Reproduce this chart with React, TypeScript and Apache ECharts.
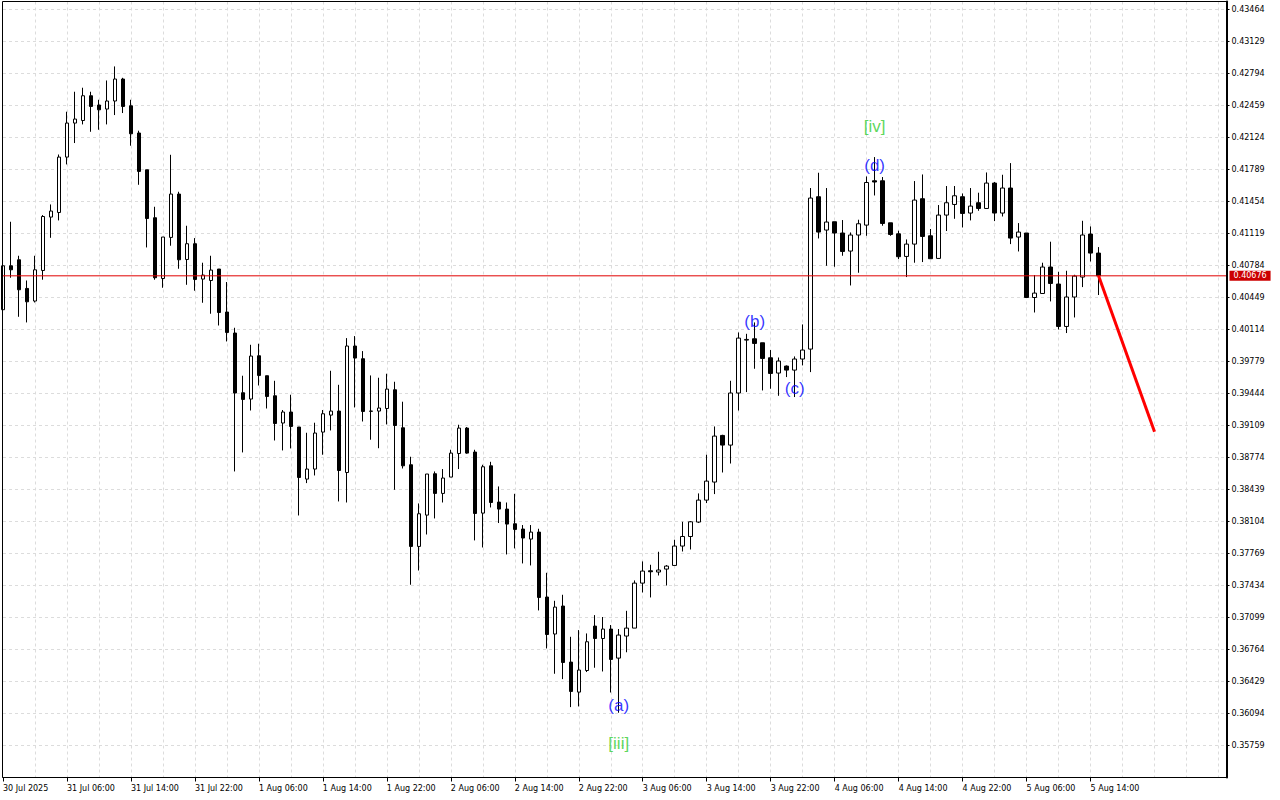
import { useEffect, useRef } from "react";
import * as echarts from "echarts";

// x-axis tick labels, one every 8 hourly bars (first bar: 30 Jul 22:00)
const timeLabels = [
  "30 Jul 2025", "31 Jul 06:00", "31 Jul 14:00", "31 Jul 22:00",
  "1 Aug 06:00", "1 Aug 14:00", "1 Aug 22:00",
  "2 Aug 06:00", "2 Aug 14:00", "2 Aug 22:00",
  "3 Aug 06:00", "3 Aug 14:00", "3 Aug 22:00",
  "4 Aug 06:00", "4 Aug 14:00", "4 Aug 22:00",
  "5 Aug 06:00", "5 Aug 14:00",
];
const BARS_PER_LABEL = 8;
const SLOT_COUNT = 154; // bars + empty space on the right

const opens = [
  0.40321, 0.40781, 0.40844, 0.40544, 0.40412, 0.40732, 0.41291, 0.41339, 0.41919, 0.42275,
  0.42302, 0.42561, 0.42464, 0.42422, 0.42506, 0.42736, 0.42456, 0.42171, 0.41786, 0.41284,
  0.40648, 0.41078, 0.41532, 0.40847, 0.41012, 0.40642, 0.40627, 0.40747, 0.40297, 0.40077,
  0.39452, 0.39386, 0.39839, 0.39630, 0.39420, 0.39135, 0.39250, 0.39093, 0.38548, 0.38653,
  0.39040, 0.39218, 0.39260, 0.38617, 0.39941, 0.39808, 0.39260, 0.39260, 0.39287, 0.39483,
  0.39085, 0.38698, 0.37843, 0.38171, 0.38604, 0.38398, 0.38569, 0.38816, 0.39082, 0.38831,
  0.38192, 0.38687, 0.38307, 0.38234, 0.38080, 0.38025, 0.37920, 0.37993, 0.37313, 0.36926,
  0.37219, 0.36632, 0.36318, 0.36544, 0.37009, 0.36879, 0.36978, 0.36674, 0.36905, 0.36988,
  0.37459, 0.37588, 0.37575, 0.37606, 0.37644, 0.37847, 0.37947, 0.38098, 0.38328, 0.38517,
  0.39005, 0.38904, 0.39449, 0.40003, 0.40017, 0.39975, 0.39818, 0.39658, 0.39731, 0.39689,
  0.39805, 0.39909, 0.41504, 0.41155, 0.41242, 0.41124, 0.40935, 0.41103, 0.41207, 0.41671,
  0.41671, 0.41231, 0.41116, 0.40879, 0.41008, 0.41483, 0.41095, 0.40858, 0.41312, 0.41423,
  0.41504, 0.41333, 0.41441, 0.41381, 0.41647, 0.41333, 0.41595, 0.41082, 0.41124, 0.40449,
  0.40491, 0.40768, 0.40590, 0.40146, 0.40454, 0.40663, 0.41113, 0.40914,
];
const closes = [
  0.40781, 0.40739, 0.40530, 0.40404, 0.40739, 0.41297, 0.41354, 0.41919, 0.42275, 0.42317,
  0.42561, 0.42449, 0.42414, 0.42506, 0.42736, 0.42449, 0.42163, 0.41769, 0.41276, 0.40656,
  0.41082, 0.41532, 0.40844, 0.41012, 0.40638, 0.40684, 0.40736, 0.40292, 0.40083, 0.39449,
  0.39382, 0.39836, 0.39633, 0.39413, 0.39130, 0.39250, 0.39099, 0.38565, 0.38653, 0.39030,
  0.39232, 0.39260, 0.38638, 0.39941, 0.39815, 0.39256, 0.39258, 0.39292, 0.39490, 0.39109,
  0.38687, 0.37843, 0.38185, 0.38601, 0.38398, 0.38559, 0.38820, 0.39082, 0.38820, 0.38188,
  0.38677, 0.38303, 0.38234, 0.38077, 0.38021, 0.37931, 0.37993, 0.37309, 0.36921, 0.37208,
  0.36628, 0.36325, 0.36549, 0.36845, 0.36879, 0.36978, 0.36660, 0.36915, 0.36988, 0.37459,
  0.37585, 0.37578, 0.37596, 0.37637, 0.37847, 0.37947, 0.38101, 0.38328, 0.38527, 0.38998,
  0.38904, 0.39449, 0.40024, 0.40010, 0.39968, 0.39811, 0.39654, 0.39784, 0.39689, 0.39805,
  0.39899, 0.41490, 0.41134, 0.41239, 0.41124, 0.40931, 0.41103, 0.41221, 0.41653, 0.41658,
  0.41224, 0.41109, 0.40876, 0.41008, 0.41469, 0.41088, 0.40855, 0.41312, 0.41441, 0.41514,
  0.41329, 0.41406, 0.41381, 0.41647, 0.41333, 0.41595, 0.41071, 0.41134, 0.40449, 0.40495,
  0.40768, 0.40596, 0.40146, 0.40454, 0.40673, 0.41103, 0.40914, 0.40676,
];
const highs = [
  0.40823, 0.41242, 0.40886, 0.40627, 0.40886, 0.41312, 0.41423, 0.41946, 0.42394, 0.42603,
  0.42645, 0.42603, 0.42519, 0.42721, 0.42868, 0.42749, 0.42519, 0.42195, 0.41786, 0.41399,
  0.41082, 0.41943, 0.41556, 0.41200, 0.41071, 0.40813, 0.40886, 0.40747, 0.40611, 0.40132,
  0.39630, 0.39954, 0.39965, 0.39630, 0.39577, 0.39271, 0.39431, 0.39093, 0.39033, 0.39138,
  0.39271, 0.39682, 0.39535, 0.40024, 0.40045, 0.39888, 0.39633, 0.39609, 0.39651, 0.39567,
  0.39358, 0.38782, 0.38293, 0.38601, 0.38628, 0.38653, 0.38855, 0.39117, 0.39093, 0.38855,
  0.38698, 0.38729, 0.38471, 0.38303, 0.38394, 0.38067, 0.38067, 0.38028, 0.37567, 0.37274,
  0.37337, 0.36897, 0.36967, 0.36932, 0.37124, 0.37104, 0.37020, 0.36978, 0.37169, 0.37487,
  0.37686, 0.37651, 0.37787, 0.37648, 0.37913, 0.38101, 0.38109, 0.38398, 0.38803, 0.39099,
  0.39012, 0.39577, 0.40083, 0.40069, 0.40188, 0.39975, 0.39899, 0.39821, 0.39738, 0.39832,
  0.40167, 0.41595, 0.41755, 0.41595, 0.41242, 0.41260, 0.41130, 0.41263, 0.41716, 0.41919,
  0.41710, 0.41231, 0.41148, 0.41057, 0.41668, 0.41737, 0.41166, 0.41417, 0.41616, 0.41616,
  0.41538, 0.41595, 0.41546, 0.41758, 0.41658, 0.41734, 0.41856, 0.41228, 0.41124, 0.40684,
  0.40813, 0.41033, 0.40718, 0.40729, 0.40687, 0.41252, 0.41193, 0.40977,
];
const lows = [
  0.40300, 0.40656, 0.40247, 0.40188, 0.40397, 0.40635, 0.41074, 0.41256, 0.41842, 0.42066,
  0.42261, 0.42184, 0.42205, 0.42261, 0.42359, 0.42380, 0.42038, 0.41629, 0.40973, 0.40635,
  0.40551, 0.40991, 0.40750, 0.40582, 0.40520, 0.40394, 0.40279, 0.40156, 0.39989, 0.38628,
  0.38827, 0.39266, 0.39528, 0.39287, 0.38952, 0.38848, 0.38869, 0.38167, 0.38506, 0.38586,
  0.38803, 0.39057, 0.38314, 0.38303, 0.39298, 0.39151, 0.38960, 0.38871, 0.39120, 0.38436,
  0.38659, 0.37442, 0.37591, 0.37968, 0.38136, 0.38303, 0.38569, 0.38653, 0.38813, 0.37906,
  0.37832, 0.38251, 0.38088, 0.37759, 0.37822, 0.37665, 0.37644, 0.37173, 0.36775, 0.36510,
  0.36454, 0.36161, 0.36168, 0.36528, 0.36573, 0.36534, 0.36314, 0.36102, 0.36735, 0.36988,
  0.37361, 0.37309, 0.37539, 0.37434, 0.37644, 0.37790, 0.37811, 0.38088, 0.38297, 0.38391,
  0.38617, 0.38711, 0.39266, 0.39459, 0.39703, 0.39476, 0.39494, 0.39420, 0.39616, 0.39407,
  0.39738, 0.39668, 0.41067, 0.40781, 0.40771, 0.40886, 0.40575, 0.40708, 0.41095, 0.41517,
  0.41200, 0.41095, 0.40851, 0.40663, 0.40813, 0.40820, 0.40855, 0.40858, 0.41145, 0.41273,
  0.41182, 0.41256, 0.41357, 0.41378, 0.41249, 0.41297, 0.41008, 0.40931, 0.40449, 0.40292,
  0.40491, 0.40408, 0.40114, 0.40077, 0.40240, 0.40558, 0.40826, 0.40475,
];

const currentPrice = 0.40676;
// projected move: [bar index, price]
const forecast: [number, number][] = [
  [137, 0.40676],
  [144, 0.39043],
];
// wave labels: [bar index, price, text]
const greenWaveLabels: [number, number, string][] = [
  [109, 0.42236, "[iv]"],
  [77, 0.35777, "[iii]"],
];
const blueWaveLabels: [number, number, string][] = [
  [109, 0.41828, "(d)"],
  [94, 0.40195, "(b)"],
  [99, 0.39494, "(c)"],
  [77, 0.36175, "(a)"],
];

// y-axis ticks
const Y_MIN = 0.35424;
const Y_MAX = 0.4354775;
const Y_STEP = 0.00335;

const AXIS_FONT = "DejaVu Sans";

// plot frame (layout only)
const GRID_LEFT = 2.5;
const GRID_TOP = 1.5;
const GRID_RIGHT = 53.5;
const GRID_BOTTOM = 22.5;
const W = 1280;
const H = 800;

export default function App() {
  const ref = useRef<HTMLDivElement>(null);

  useEffect(() => {
    if (!ref.current) return;
    const chart = echarts.init(ref.current, undefined, { renderer: "svg" });

    const categories = Array.from({ length: SLOT_COUNT }, (_, i) => String(i));
    const isLabelIdx = (i: number) =>
      i % BARS_PER_LABEL === 0 && i / BARS_PER_LABEL < timeLabels.length;

    const candleData = opens.map((o, i) => [o, closes[i], lows[i], highs[i]]);

    const labelSeries = (items: [number, number, string][], color: string) => ({
      type: "scatter",
      symbol: "circle",
      symbolSize: 1,
      silent: true,
      z: 5,
      itemStyle: { color: "rgba(0,0,0,0)" },
      data: items.map(([x, y, t]) => ({ value: [x, y], name: t })),
      label: {
        show: true,
        position: "inside",
        formatter: "{b}",
        color,
        fontSize: 17,
        fontFamily: "Liberation Sans",
      },
    });

    chart.setOption({
      animation: false,
      backgroundColor: "#ffffff",
      grid: {
        left: GRID_LEFT,
        right: GRID_RIGHT,
        top: GRID_TOP,
        bottom: GRID_BOTTOM,
        show: false,
      },
      graphic: [
        {
          type: "rect",
          silent: true,
          z: 100,
          shape: {
            x: GRID_LEFT,
            y: GRID_TOP,
            width: W - GRID_LEFT - GRID_RIGHT,
            height: H - GRID_TOP - GRID_BOTTOM,
          },
          style: { fill: "none", stroke: "#000000", lineWidth: 1 },
        },
      ],
      xAxis: {
        type: "category",
        data: categories,
        boundaryGap: false,
        axisLine: { show: true, lineStyle: { color: "#000000", width: 1 } },
        axisTick: {
          show: true,
          interval: (i: number) => isLabelIdx(i),
          length: 4,
          lineStyle: { color: "#000000" },
        },
        axisLabel: {
          show: true,
          interval: (i: number) => isLabelIdx(i),
          formatter: (_v: string, i: number) => timeLabels[i / BARS_PER_LABEL] ?? "",
          align: "left",
          margin: 7,
          color: "#000000",
          fontSize: 8,
          fontFamily: AXIS_FONT,
        },
        splitLine: {
          show: true,
          interval: (i: number) => i % 4 === 0 && i > 0,
          lineStyle: { color: "#dcdcdc", type: [3, 3], width: 1 },
        },
      },
      yAxis: {
        type: "value",
        position: "right",
        min: Y_MIN,
        max: Y_MAX,
        interval: Y_STEP,
        axisLine: { show: true, lineStyle: { color: "#000000", width: 2 } },
        axisTick: { show: true, length: 3, lineStyle: { color: "#000000" } },
        axisLabel: {
          show: true,
          showMinLabel: false,
          showMaxLabel: false,
          formatter: (v: number) => v.toFixed(5),
          margin: 5,
          color: "#000000",
          fontSize: 8,
          fontFamily: AXIS_FONT,
        },
        splitLine: {
          show: true,
          lineStyle: { color: "#dcdcdc", type: [3, 3], width: 1 },
        },
      },
      series: [
        {
          type: "candlestick",
          data: candleData,
          barWidth: 4,
          clip: true,
          z: 2,
          itemStyle: {
            color: "#ffffff",
            color0: "#000000",
            borderColor: "#000000",
            borderColor0: "#000000",
            borderWidth: 1,
          },
        },
        {
          // current price line with its tag on the price axis
          type: "line",
          data: [
            [0, currentPrice],
            [SLOT_COUNT - 1, currentPrice],
          ],
          symbol: "none",
          silent: true,
          z: 4,
          lineStyle: { color: "#e00000", width: 1 },
          endLabel: {
            show: true,
            distance: 3,
            formatter: () => currentPrice.toFixed(5),
            backgroundColor: "#cc0000",
            color: "#ffffff",
            fontSize: 8,
            fontFamily: AXIS_FONT,
            padding: [1, 4, 1, 4],
          },
        },
        {
          type: "line",
          data: forecast,
          symbol: "none",
          silent: true,
          z: 6,
          lineStyle: { color: "#ff0000", width: 3 },
        },
        labelSeries(greenWaveLabels, "#32cd32"),
        labelSeries(blueWaveLabels, "#0000ff"),
      ],
    });

    return () => chart.dispose();
  }, []);

  return (
    <div
      ref={ref}
      style={{ position: "fixed", left: 0, top: 0, width: W, height: H, background: "#fff" }}
    />
  );
}
